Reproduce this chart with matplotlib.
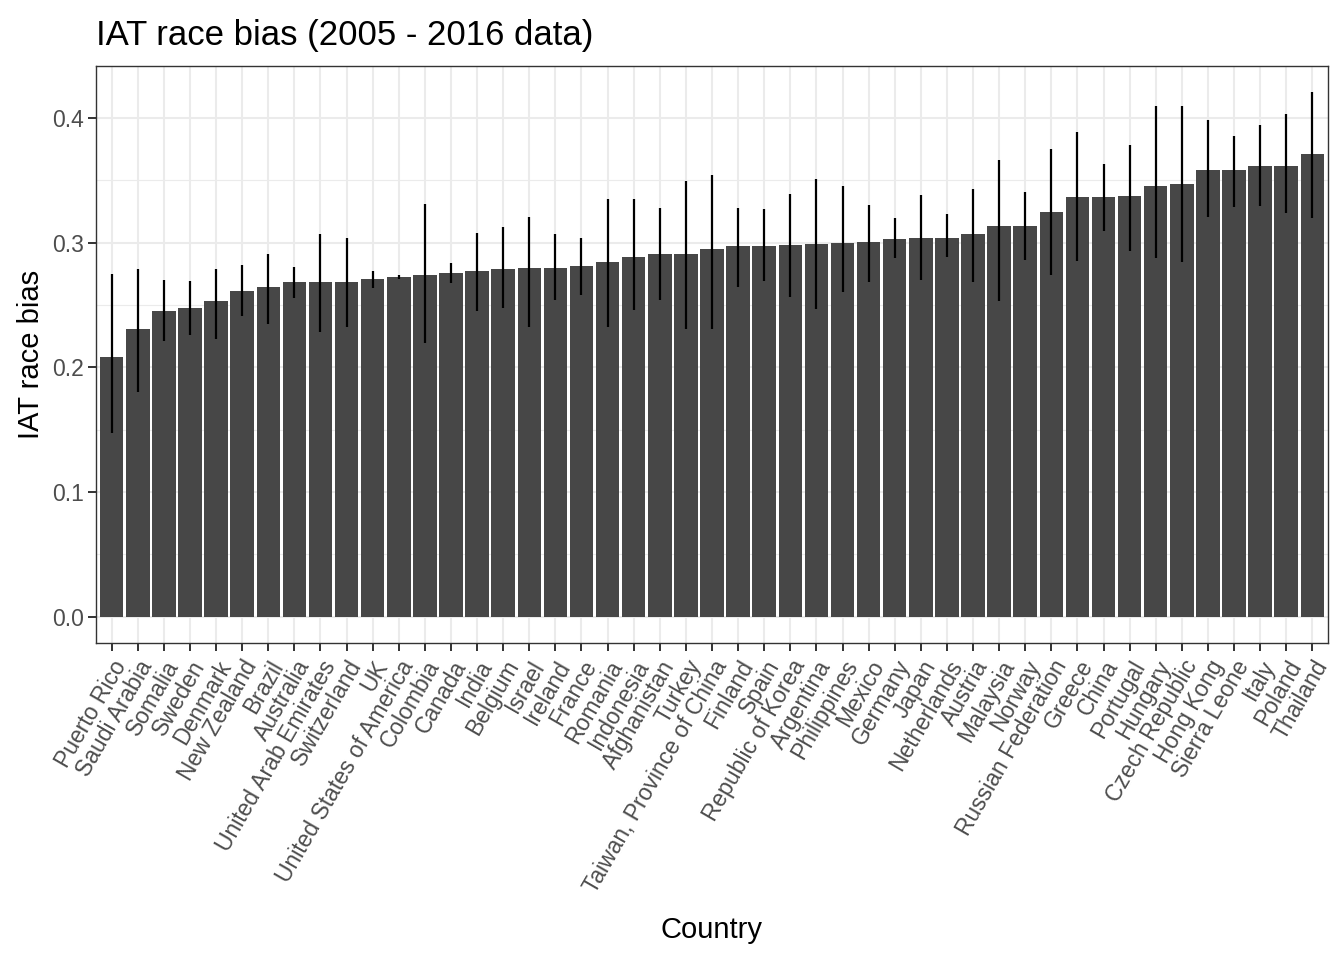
import numpy as np
import matplotlib
matplotlib.use("Agg")
import matplotlib.pyplot as plt
from matplotlib.ticker import MultipleLocator

countries = [
    "Puerto Rico", "Saudi Arabia", "Somalia", "Sweden", "Denmark", "New Zealand",
    "Brazil", "Australia", "United Arab Emirates", "Switzerland", "UK",
    "United States of America", "Colombia", "Canada", "India", "Belgium", "Israel",
    "Ireland", "France", "Romania", "Indonesia", "Afghanistan", "Turkey",
    "Taiwan, Province of China", "Finland", "Spain", "Republic of Korea", "Argentina",
    "Philippines", "Mexico", "Germany", "Japan", "Netherlands", "Austria", "Malaysia",
    "Norway", "Russian Federation", "Greece", "China", "Portugal", "Hungary",
    "Czech Republic", "Hong Kong", "Sierra Leone", "Italy", "Poland", "Thailand",
]
bias = [
    0.2084, 0.2310, 0.2450, 0.2475, 0.2530, 0.2610, 0.2640, 0.2680, 0.2680, 0.2680,
    0.2707, 0.2723, 0.2739, 0.2755, 0.2770, 0.2786, 0.2794, 0.2794, 0.2810, 0.2842,
    0.2882, 0.2906, 0.2906, 0.2946, 0.2975, 0.2975, 0.2984, 0.2992, 0.3000, 0.3007,
    0.3031, 0.3039, 0.3040, 0.3066, 0.3130, 0.3134, 0.3242, 0.3361, 0.3361, 0.3369,
    0.3457, 0.3470, 0.3585, 0.3585, 0.3617, 0.3617, 0.3713,
]
ci_low = [
    0.1477, 0.1800, 0.2210, 0.2257, 0.2230, 0.2410, 0.2347, 0.2557, 0.2286, 0.2323,
    0.2637, 0.2709, 0.2193, 0.2677, 0.2451, 0.2475, 0.2326, 0.2536, 0.2579, 0.2326,
    0.2457, 0.2536, 0.2310, 0.2305, 0.2645, 0.2688, 0.2566, 0.2470, 0.2605, 0.2685,
    0.2877, 0.2696, 0.2885, 0.2685, 0.2531, 0.2858, 0.2741, 0.2850, 0.3092, 0.2936,
    0.2872, 0.2845, 0.3207, 0.3284, 0.3292, 0.3234, 0.3199,
]
ci_high = [
    0.2750, 0.2790, 0.2700, 0.2690, 0.2790, 0.2820, 0.2910, 0.2800, 0.3066, 0.3034,
    0.2768, 0.2739, 0.3305, 0.2832, 0.3076, 0.3122, 0.3204, 0.3068, 0.3040, 0.3350,
    0.3345, 0.3279, 0.3497, 0.3542, 0.3279, 0.3265, 0.3388, 0.3510, 0.3457, 0.3303,
    0.3194, 0.3377, 0.3226, 0.3433, 0.3659, 0.3407, 0.3752, 0.3883, 0.3627, 0.3782,
    0.4093, 0.4098, 0.3984, 0.3856, 0.3942, 0.4034, 0.4205,
]

W, H = 1344, 960
fig = plt.figure(figsize=(W / 100, H / 100), dpi=100)
plt.rcParams['font.family'] = ['Liberation Sans', 'DejaVu Sans']

left, right, top, bottom = 96, 1328, 66, 643
ax = fig.add_axes([left / W, 1 - bottom / H, (right - left) / W, (bottom - top) / H])

x = np.arange(len(countries))
ax.bar(x, bias, width=0.9, color="#474747", zorder=2)
ax.vlines(x, ci_low, ci_high, color="black", linewidth=1.6, zorder=3)

ax.set_xlim(-0.6, len(countries) - 0.4)
ax.set_ylim(-0.021, 0.4415)
ax.yaxis.set_minor_locator(MultipleLocator(0.05))
ax.set_yticks([0.0, 0.1, 0.2, 0.3, 0.4])
ax.set_yticklabels(["0.0", "0.1", "0.2", "0.3", "0.4"])
ax.set_xticks(x)
ax.set_xticklabels(countries, rotation=60, ha="right", va="top",
                   rotation_mode="anchor")

# ggplot theme_bw look
ax.grid(which="major", color="#EBEBEB", linewidth=1.5, zorder=0)
ax.grid(which="minor", axis="y", color="#EBEBEB", linewidth=0.8, zorder=0)
ax.set_axisbelow(True)
for s in ax.spines.values():
    s.set_color("#333333")
    s.set_linewidth(1.0)
ax.tick_params(axis="both", which="major", length=5.5, width=1.4, color="#333333",
               labelsize=16.5, labelcolor="#4D4D4D", pad=3)
ax.tick_params(axis="x", which="major", pad=4)
ax.tick_params(axis="y", which="minor", length=0)

ax.set_xlabel("Country", fontsize=21, labelpad=14)
ax.set_ylabel("IAT race bias", fontsize=21, labelpad=5)
fig.text(left / W, 1 - 45 / H, "IAT race bias (2005 - 2016 data)", fontsize=25,
         ha="left", va="baseline")

fig.savefig("out.png", dpi=100)
